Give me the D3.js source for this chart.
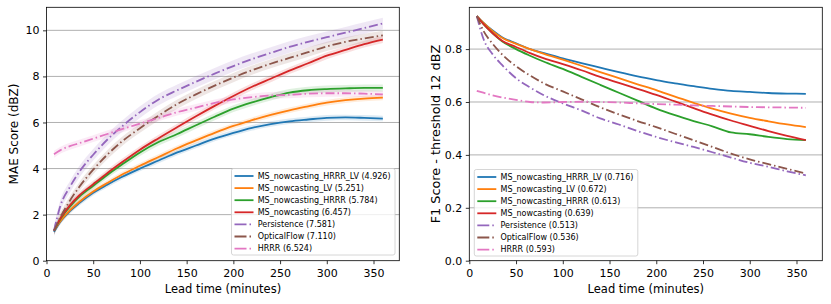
<!DOCTYPE html>
<html>
<head>
<meta charset="utf-8">
<script src="https://cdn.jsdelivr.net/npm/d3@7"></script>
<style>
  body { margin: 0; background: #fff; }
  svg text { font-family: "DejaVu Sans", sans-serif; fill: #000; }
</style>
</head>
<body>
<div class="chart"></div>
<script>
// lead times (minutes)
const lead = [8, 15, 25, 35, 50, 65, 80, 100, 120, 140, 160, 180, 200, 220, 240, 260, 280, 300, 320, 340, 360];

const names = ['MS_nowcasting_HRRR_LV', 'MS_nowcasting_LV', 'MS_nowcasting_HRRR', 'MS_nowcasting',
               'Persistence', 'OpticalFlow', 'HRRR'];
const maeMeans = ['4.926', '5.251', '5.784', '6.457', '7.581', '7.110', '6.524'];
const f1Means = ['0.716', '0.672', '0.613', '0.639', '0.513', '0.536', '0.593'];

// MAE (dBZ)
const maeHrrrLv = [1.25, 1.7, 2.15, 2.5, 2.95, 3.3, 3.62, 4.0, 4.35, 4.7, 5.0, 5.3, 5.55, 5.77, 5.93, 6.05, 6.13, 6.2, 6.22, 6.2, 6.17];
const maeLv = [1.3, 1.72, 2.18, 2.55, 3.0, 3.37, 3.72, 4.12, 4.5, 4.88, 5.22, 5.55, 5.85, 6.1, 6.33, 6.53, 6.7, 6.86, 6.97, 7.04, 7.08];
const maeHrrr = [1.3, 1.82, 2.35, 2.77, 3.25, 3.72, 4.15, 4.7, 5.15, 5.5, 5.88, 6.25, 6.6, 6.87, 7.1, 7.3, 7.4, 7.45, 7.48, 7.5, 7.5];
const maeMs = [1.3, 1.85, 2.4, 2.83, 3.32, 3.8, 4.25, 4.82, 5.32, 5.8, 6.27, 6.72, 7.15, 7.55, 7.9, 8.25, 8.57, 8.9, 9.15, 9.4, 9.6];
const maePersist = [1.3, 2.4, 3.2, 3.85, 4.6, 5.25, 5.8, 6.45, 7.0, 7.4, 7.77, 8.12, 8.45, 8.75, 9.02, 9.28, 9.5, 9.7, 9.9, 10.1, 10.3];
const maeFlow = [1.3, 1.9, 2.6, 3.2, 3.95, 4.6, 5.15, 5.75, 6.3, 6.8, 7.22, 7.6, 7.95, 8.27, 8.55, 8.8, 9.05, 9.3, 9.5, 9.65, 9.78];
const maeHrrrNwp = [4.62, 4.8, 4.97, 5.1, 5.3, 5.5, 5.7, 5.95, 6.2, 6.45, 6.65, 6.85, 7.0, 7.1, 7.17, 7.2, 7.25, 7.27, 7.27, 7.25, 7.22];
const maeSpread = [0.12, 0.12, 0.15, 0.15, 0.25, 0.2, 0.15];

// F1 score, threshold 12 dBZ
const f1HrrrLv = [0.925, 0.9, 0.87, 0.845, 0.822, 0.8, 0.785, 0.765, 0.747, 0.73, 0.713, 0.697, 0.683, 0.67, 0.66, 0.65, 0.642, 0.638, 0.634, 0.632, 0.631];
const f1Lv = [0.925, 0.9, 0.868, 0.843, 0.82, 0.8, 0.782, 0.76, 0.737, 0.713, 0.69, 0.667, 0.645, 0.62, 0.597, 0.575, 0.556, 0.54, 0.527, 0.515, 0.505];
const f1Hrrr = [0.925, 0.895, 0.86, 0.83, 0.8, 0.775, 0.752, 0.725, 0.695, 0.665, 0.635, 0.605, 0.575, 0.55, 0.528, 0.508, 0.485, 0.478, 0.468, 0.46, 0.456];
const f1Ms = [0.925, 0.895, 0.86, 0.832, 0.808, 0.785, 0.765, 0.743, 0.72, 0.695, 0.672, 0.65, 0.627, 0.602, 0.577, 0.552, 0.53, 0.51, 0.49, 0.472, 0.456];
const f1Persist = [0.925, 0.84, 0.78, 0.74, 0.69, 0.655, 0.625, 0.595, 0.568, 0.538, 0.515, 0.49, 0.468, 0.448, 0.43, 0.41, 0.39, 0.37, 0.355, 0.338, 0.323];
const f1Flow = [0.925, 0.87, 0.82, 0.78, 0.735, 0.7, 0.67, 0.64, 0.61, 0.58, 0.553, 0.528, 0.505, 0.48, 0.455, 0.43, 0.405, 0.383, 0.365, 0.347, 0.33];
const f1HrrrNwp = [0.642, 0.635, 0.625, 0.617, 0.608, 0.6, 0.598, 0.6, 0.601, 0.6, 0.598, 0.595, 0.592, 0.59, 0.587, 0.585, 0.583, 0.581, 0.58, 0.579, 0.578];

const xTicks = [0, 50, 100, 150, 200, 250, 300, 350];
const maeTicks = [0, 2, 4, 6, 8, 10];
const f1Ticks = [0, 0.2, 0.4, 0.6, 0.8];

const colors = ['#1f77b4', '#ff7f0e', '#2ca02c', '#d62728', '#9467bd', '#8c564b', '#e377c2'];
const dashed = [false, false, false, false, true, true, true];
const dashDot = '9,3,1.5,3';

const svg = d3.select('.chart')
  .append('svg')
  .attr('width', 831)
  .attr('height', 304);

drawPanel({
  left: 46.5, right: 399.3, top: 7.3, bottom: 260.7,
  yMax: 11.0, yTicks: maeTicks, yFormat: d3.format('d'),
  yLabel: 'MAE Score (dBZ)', yLabelX: 13.5, yLabelSize: 12,
  series: [maeHrrrLv, maeLv, maeHrrr, maeMs, maePersist, maeFlow, maeHrrrNwp],
  spread: maeSpread, means: maeMeans,
  legendX: 231.5, legendY: 168.5
});

drawPanel({
  left: 469.3, right: 822.3, top: 7.3, bottom: 260.7,
  yMax: 0.958, yTicks: f1Ticks, yFormat: d3.format('.1f'),
  yLabel: 'F1 Score - threshold 12 dBZ', yLabelX: 435.5, yLabelSize: 12.8,
  series: [f1HrrrLv, f1Lv, f1Hrrr, f1Ms, f1Persist, f1Flow, f1HrrrNwp],
  spread: null, means: f1Means,
  legendX: 474.3, legendY: 169.5
});

function drawPanel(p) {
  const x = d3.scaleLinear().domain([0, 377.6]).range([p.left, p.right]);
  const y = d3.scaleLinear().domain([0, p.yMax]).range([p.bottom, p.top]);
  const g = svg.append('g');
  const clipId = 'clip' + Math.round(p.left);

  g.append('clipPath').attr('id', clipId)
    .append('rect')
    .attr('x', p.left).attr('y', p.top)
    .attr('width', p.right - p.left).attr('height', p.bottom - p.top);

  // horizontal grid
  g.selectAll('.grid')
    .data(p.yTicks.filter(t => t > 0))
    .enter()
    .append('line')
    .attr('x1', p.left).attr('x2', p.right)
    .attr('y1', d => y(d)).attr('y2', d => y(d))
    .attr('stroke', '#b0b0b0')
    .attr('stroke-width', 1);

  const plot = g.append('g').attr('clip-path', 'url(#' + clipId + ')');

  if (p.spread) {
    p.series.forEach((vals, i) => {
      const area = d3.area()
        .x((d, j) => x(lead[j]))
        .y0(d => y(d - p.spread[i]))
        .y1(d => y(d + p.spread[i]))
        .curve(d3.curveMonotoneX);
      plot.append('path')
        .attr('d', area(vals))
        .attr('fill', colors[i])
        .attr('fill-opacity', 0.15);
    });
  }

  p.series.forEach((vals, i) => {
    const line = d3.line()
      .x((d, j) => x(lead[j]))
      .y(d => y(d))
      .curve(d3.curveMonotoneX);
    plot.append('path')
      .attr('d', line(vals))
      .attr('fill', 'none')
      .attr('stroke', colors[i])
      .attr('stroke-width', 1.8)
      .attr('stroke-dasharray', dashed[i] ? dashDot : null);
  });

  // axes
  const xAxis = d3.axisBottom(x).tickValues(xTicks).tickSize(3.5).tickPadding(5).tickFormat(d3.format('d'));
  const yAxis = d3.axisLeft(y).tickValues(p.yTicks).tickSize(3.5).tickPadding(3.5).tickFormat(p.yFormat);

  const gx = g.append('g').attr('transform', 'translate(0,' + p.bottom + ')').call(xAxis);
  const gy = g.append('g').attr('transform', 'translate(' + p.left + ',0)').call(yAxis);
  [gx, gy].forEach(a => {
    a.select('.domain').remove();
    a.selectAll('line').attr('stroke', '#000').attr('stroke-width', 0.8);
    a.selectAll('text').style('font-size', '11px');
  });

  // frame
  g.append('rect')
    .attr('x', p.left).attr('y', p.top)
    .attr('width', p.right - p.left).attr('height', p.bottom - p.top)
    .attr('fill', 'none')
    .attr('stroke', '#000')
    .attr('stroke-width', 0.8);

  g.append('text')
    .attr('x', (p.left + p.right) / 2)
    .attr('y', 292.5)
    .attr('text-anchor', 'middle')
    .style('font-size', '11.5px')
    .text('Lead time (minutes)');

  g.append('text')
    .attr('transform', 'translate(' + p.yLabelX + ',' + ((p.top + p.bottom) / 2) + ') rotate(-90)')
    .attr('text-anchor', 'middle')
    .attr('dy', '0.35em')
    .style('font-size', p.yLabelSize + 'px')
    .text(p.yLabel);

  // legend
  const leg = g.append('g').attr('transform', 'translate(' + p.legendX + ',' + p.legendY + ')');
  leg.append('rect')
    .attr('x', 0).attr('y', 0)
    .attr('width', 163.5).attr('height', 86.5)
    .attr('rx', 2)
    .attr('fill', '#fff').attr('fill-opacity', 0.8)
    .attr('stroke', '#cccccc').attr('stroke-width', 0.8);

  names.forEach((name, i) => {
    const yy = 7.5 + i * 12.1;
    leg.append('line')
      .attr('x1', 3).attr('x2', 22)
      .attr('y1', yy).attr('y2', yy)
      .attr('stroke', colors[i])
      .attr('stroke-width', 1.8)
      .attr('stroke-dasharray', dashed[i] ? '12,3,1.5,3' : null);
    leg.append('text')
      .attr('x', 26.2)
      .attr('y', yy)
      .attr('dy', '0.35em')
      .style('font-size', '8px')
      .text(name + ' (' + p.means[i] + ')');
  });
}
</script>
</body>
</html>
